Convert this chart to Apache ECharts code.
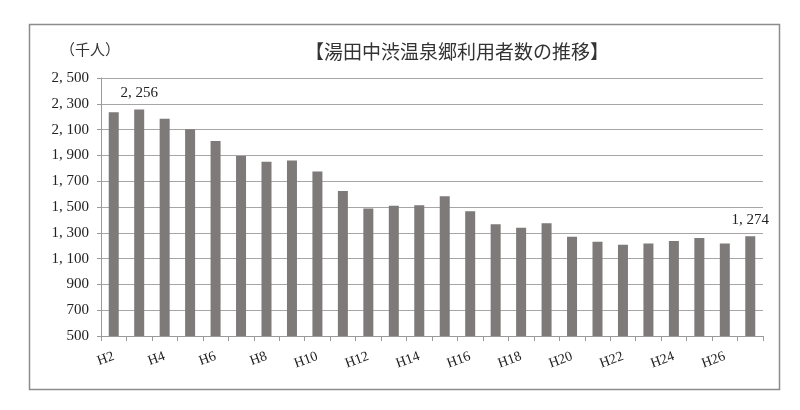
<!DOCTYPE html>
<html>
<head>
<meta charset="utf-8">
<script src="https://cdn.jsdelivr.net/npm/echarts@6/dist/echarts.min.js"></script>
<style>
  html, body { margin: 0; padding: 0; background: #fff; }
  #chart_1 { width: 800px; height: 410px; }
</style>
</head>
<body>
<div id="chart_1"></div>
<script>
// 湯田中渋温泉郷 利用者数（千人）
var years = ['H2', 'H3', 'H4', 'H5', 'H6', 'H7', 'H8', 'H9', 'H10', 'H11', 'H12', 'H13', 'H14',
    'H15', 'H16', 'H17', 'H18', 'H19', 'H20', 'H21', 'H22', 'H23', 'H24', 'H25', 'H26', 'H27'];
var visitors = [2234, 2256, 2185, 2103, 2012, 1896, 1850, 1860, 1775, 1625, 1489, 1509, 1514,
    1584, 1468, 1367, 1339, 1375, 1269, 1230, 1207, 1218, 1236, 1259, 1218, 1274];
var labelled = ['H3', 'H27'];   // 値ラベルを出す年

var serif = "'Liberation Serif', 'Noto Sans CJK JP', serif";

function fmt(v) {
    return String(v).replace(/\B(?=(\d{3})+(?!\d))/g, ', ');
}

var myChart = echarts.init(document.getElementById('chart_1'));

var option = {
    backgroundColor: '#fff',
    animation: false,
    title: {
        text: '【湯田中渋温泉郷利用者数の推移】',
        left: 452,
        top: 40,
        textAlign: 'center',
        textStyle: { fontFamily: serif, fontSize: 19, fontWeight: 'normal', color: '#333' }
    },
    graphic: [
        {
            type: 'rect',
            shape: { x: 29.5, y: 24.5, width: 750, height: 365 },
            style: { fill: 'none', stroke: '#8c8c8c', lineWidth: 1.5 }
        },
        {
            type: 'text',
            left: 60,
            top: 44,
            style: { text: '（千人）', font: '15px ' + serif, fill: '#333' }
        }
    ],
    grid: {
        left: 101,
        right: 37,
        top: 78,
        bottom: 74
    },
    xAxis: {
        type: 'category',
        data: years,
        axisLine: { lineStyle: { color: '#9a9a9a', width: 1 } },
        axisTick: { show: true, alignWithLabel: false, interval: 0, length: 5, lineStyle: { color: '#9a9a9a' } },
        axisLabel: {
            interval: 1,
            rotate: 20,
            margin: 20,
            fontFamily: serif,
            fontSize: 14,
            color: '#222'
        }
    },
    yAxis: {
        type: 'value',
        min: 500,
        max: 2500,
        interval: 200,
        axisLine: { show: true, lineStyle: { color: '#9a9a9a' } },
        axisTick: { show: true, length: 4, lineStyle: { color: '#9a9a9a' } },
        splitLine: { lineStyle: { color: '#a6a6a6', width: 1 } },
        axisLabel: {
            formatter: fmt,
            margin: 12,
            fontFamily: serif,
            fontSize: 15,
            color: '#222'
        }
    },
    series: [
        {
            type: 'bar',
            data: visitors.map(function (v, i) {
                var show = labelled.indexOf(years[i]) >= 0;
                return {
                    value: v,
                    label: {
                        show: show,
                        position: 'top',
                        distance: 9,
                        formatter: function (p) { return fmt(p.value); },
                        fontFamily: serif,
                        fontSize: 15,
                        color: '#222'
                    }
                };
            }),
            barWidth: 10,
            itemStyle: { color: '#7d7a79' }
        }
    ]
};

myChart.setOption(option);
window.addEventListener('resize', function () {
    myChart.resize();
});
</script>
</body>
</html>
